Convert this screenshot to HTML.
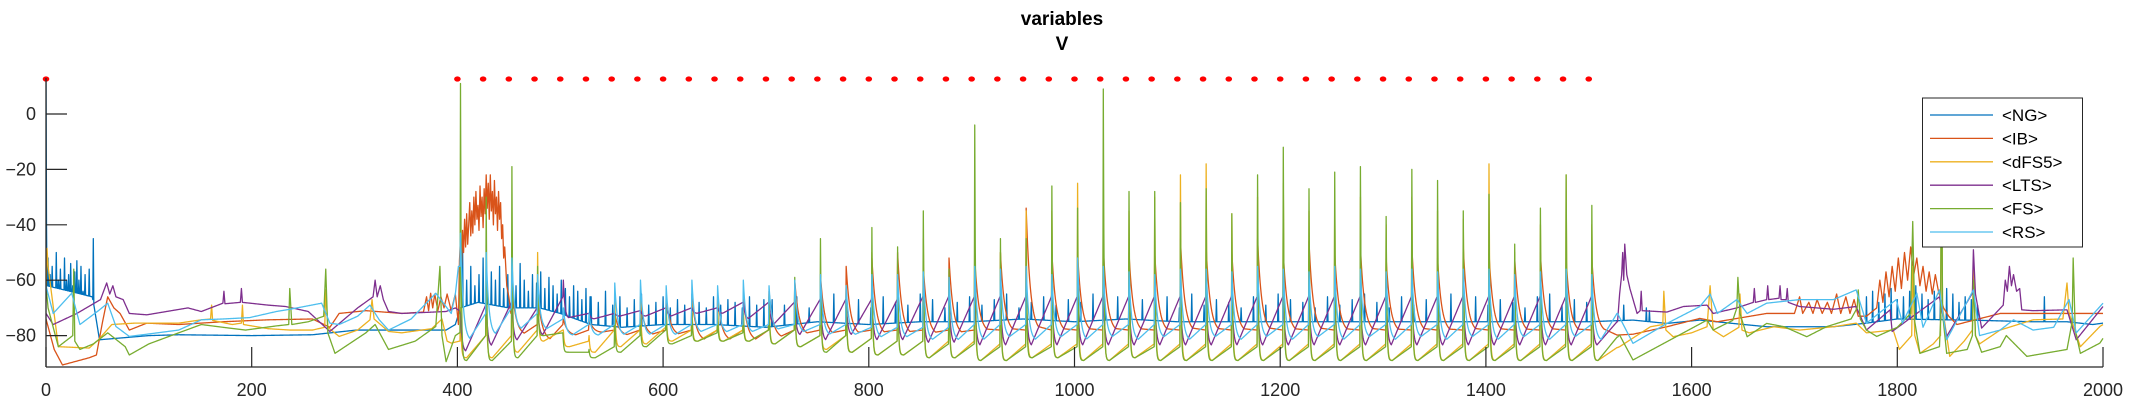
<!DOCTYPE html>
<html><head><meta charset="utf-8"><style>
html,body{margin:0;padding:0;background:#fff;}
svg{display:block;font-family:"Liberation Sans",sans-serif;}
</style></head><body>
<svg id="chart" width="2133" height="400" viewBox="0 0 2133 400" xmlns="http://www.w3.org/2000/svg">
<defs><clipPath id="plotclip"><rect x="46" y="70" width="2060" height="298"/></clipPath></defs>
<text x="1062" y="25" text-anchor="middle" font-size="19" font-weight="bold" fill="#000">variables</text>
<text x="1062" y="50" text-anchor="middle" font-size="19" font-weight="bold" fill="#000">V</text>
<g id="series" clip-path="url(#plotclip)"></g>
<g id="dots"></g>
<g id="axes"></g>
<g id="legend"></g>
</svg>
<script>
const xTicks=[0,200,400,600,800,1000,1200,1400,1600,1800,2000];
const yTicks=[0,-20,-40,-60,-80];
const eventTimes=[0,400,425,450,475,500,525,550,575,600,625,650,675,700,725,750,775,800,825,850,875,900,925,950,975,1000,1025,1050,1075,1100,1125,1150,1175,1200,1225,1250,1275,1300,1325,1350,1375,1400,1425,1450,1475,1500];
const seriesNames=["<NG>","<IB>","<dFS5>","<LTS>","<FS>","<RS>"];
const cycleTimes=[403,428,453,478,503,528,553,578,603,628,653,678,703,728,753,778,803,828,853,878,903,928,953,978,1003,1028,1053,1078,1103,1128,1153,1178,1203,1228,1253,1278,1303,1328,1353,1378,1403,1428,1453,1478,1503];

const ngKeys=[0,13,0.5,-40,1,-62,45,-66,47,-70,52,-81.5,100,-80,129,-79.7,200,-80,259,-79.7,302,-78,346,-78,389,-78,398,-76,403,-70,420,-68,450,-70,480,-70,500,-72,530,-76,560,-77,600,-76,650,-76,700,-77,750,-75,800,-76,850,-75,900,-75,950,-74,1000,-75,1050,-74,1100,-75,1200,-75,1300,-75,1400,-75,1500,-75,1543,-74.4,1576,-75.6,1608,-74.4,1640,-75.6,1673,-76.8,1738,-76.8,1770,-75.5,1800,-74,1880,-74.5,1932,-75,1965,-75,1990,-76,2000,-75.5];
const ngSpikeT=[2,4,6,8,10,12,14,16,18,20,22,24,26,28,30,32,34,36,38,40,42,46,405,409,413,417,421,425,429,433,437,441,445,449,453,457,461,465,469,473,477,481,485,489,493,497,501,505,509,513,517,521,525,529,530,537,544,551,558,565,572,579,586,593,600,607,614,621,628,635,642,649,656,663,670,677,684,691,698,706,718,730,742,754,766,778,790,802,814,826,838,850,862,874,886,898,910,922,934,946,958,970,982,994,1006,1018,1030,1042,1054,1066,1078,1090,1102,1114,1126,1138,1150,1162,1174,1186,1198,1210,1222,1234,1246,1258,1270,1282,1294,1306,1318,1330,1342,1354,1366,1378,1390,1402,1414,1426,1438,1450,1462,1474,1486,1498,1534,1556,1559,1770,1776,1782,1788,1794,1800,1806,1812,1818,1824,1830,1836,1842,1848,1854,1860,1866,1872,1878,1943];
const ngSpikeV=[-52,-58,-55,-63,-50,-60,-56,-65,-52,-60,-58,-54,-62,-57,-53,-60,-55,-64,-58,-66,-56,-45,-45,-60,-55,-62,-58,-52,-64,-57,-60,-55,-63,-58,-56,-62,-54,-60,-64,-58,-61,-57,-63,-59,-62,-65,-60,-63,-66,-62,-64,-67,-63,-66,-66,-68,-64,-69,-66,-70,-67,-65,-69,-68,-66,-70,-67,-69,-65,-68,-70,-66,-69,-67,-68,-70,-66,-69,-67,-67,-69,-66,-70,-68,-65,-69,-67,-70,-66,-68,-69,-65,-67,-70,-68,-66,-69,-67,-65,-70,-68,-66,-69,-67,-68,-65,-70,-66,-69,-67,-68,-66,-70,-65,-69,-67,-68,-70,-66,-69,-65,-67,-68,-70,-66,-69,-67,-65,-68,-70,-66,-69,-67,-68,-65,-70,-66,-69,-67,-68,-70,-66,-65,-69,-67,-68,-69,-70,-71,-66,-64,-68,-65,-63,-67,-66,-64,-62,-65,-67,-64,-66,-63,-65,-68,-66,-67,-69,-66];

const ibKeys=[0,-74,8,-85,16,-90.6,42,-88,49,-87,55,-75,60,-66,66,-70,72,-72,81,-78,98,-75.5,129,-76,172,-75,216,-74.3,259,-74,276,-77,285,-72,311,-71,346,-72,367,-71.5,370,-66,372,-71,374,-64.7,376,-70,378,-65,381,-71,384,-66,387,-70,390,-65,394,-71,398,-65,401,-76,402,-53,403,-45,404,-55,405,-42,406,-50,407,-38,408,-48,409,-36,410,-47,411,-40,412,-32,413,-44,414,-35,415,-43,416,-30,417,-40,418,-28,419,-38,420,-33,421,-42,422,-26,423,-37,424,-30,425,-41,426,-27,427,-36,428,-22,429,-34,430,-25,431,-38,432,-22,433,-35,434,-28,435,-40,436,-24,437,-36,438,-30,439,-42,440,-28,441,-38,442,-32,443,-45,444,-40,445,-52,446,-48,448,-62,450,-66,452,-72,1528,-79.8,1543,-79.5,1576,-76.8,1608,-73.8,1625,-75,1673,-72,1700,-72,1705,-66,1708,-72,1714,-68,1718,-72,1722,-67,1727,-72,1732,-68,1736,-72,1741,-65,1745,-72,1750,-66,1754,-72,1758,-67,1762,-73,1770,-73,1780,-70,1783,-60,1786,-68,1789,-57,1792,-66,1795,-55,1798,-64,1801,-52,1804,-63,1807,-50,1810,-60,1813,-48,1816,-58,1819,-52,1822,-62,1825,-55,1828,-64,1831,-57,1834,-65,1837,-58,1840,-64,1845,-70,1850,-73,1858,-76,1900,-72,1965,-72,2000,-72];
const ibPeak=[null,null,-62,-64,-74,-74,-72,-68,-66,-66,-66,-66,-64,-60,-58,-55,-52,-50,-55,-52,-52,-50,-34,-50,-50,-48,-50,-50,-45,-48,-50,-45,-50,-46,-50,-48,-52,-48,-52,-48,-50,-52,-50,-52,-52];
const ibTrough=[null,null,-80,-82,-80,-79,-80,-80,-80,-82,-82,-82,-81,-80,-80,-80,-80,-80,-80,-80,-79,-79,-79,-79,-79,-79,-79,-79,-79,-79,-79,-79,-79,-79,-79,-79,-79,-79,-79,-79,-79,-79,-79,-79,-79];
const ibPre=[null,null,-72,-76,-76,-78,-78,-78,-78,-78,-78,-78,-78,-78,-78,-78,-78,-78,-78,-78,-78,-78,-78,-78,-78,-78,-78,-78,-78,-78,-78,-78,-78,-78,-78,-78,-78,-78,-78,-78,-78,-78,-78,-78,-78];

const dfsKeys=[0,-65,1,-48.5,2,-55,12,-84,42,-84.5,51,-81.5,64,-76,86,-75.5,129,-75.5,151,-74.3,160,-74,161,-69,162,-74.5,181,-76,190,-75.5,191,-69,192,-76,216,-77.5,237,-78,259,-78,271,-77,272,-63.5,274,-77,285,-80.3,303,-78,315,-74.3,317,-67,319,-74,333,-78.5,346,-79,375,-77.5,385,-74,390,-82,394,-82.7,402,-82,1511,-87,1530,-84,1560,-76.8,1572,-76,1573,-64,1575,-78,1582,-80.4,1600,-79,1615,-76.8,1618,-62,1621,-78,1631,-80.4,1646,-77,1647,-65,1649,-78,1656,-79,1680,-76.8,1705,-78,1738,-76.8,1760,-75.5,1770,-79,1796,-78,1802,-85,1814,-80,1815,-55,1817,-80,1822,-86.4,1835,-83,1842,-80,1843,-10,1844,-70,1851,-87.5,1865,-82,1873,-78,1874,-55,1876,-80,1880,-83,1900,-78,1932,-74.3,1961,-74,1965,-61,1967,-72,1978,-84,1997,-76.7,2000,-76];
const dfsPeak=[-70,-60,-55,-50,-78,-80,-65,-66,-70,-68,-68,-70,-65,-62,-58,-62,-50,-55,-45,-60,-45,-50,-35,-35,-25,-30,-35,-30,-22,-18,-36,-30,-25,-35,-30,-30,-40,-30,-35,-38,-18,-50,-40,-22,-40];
const dfsTrough=[-88,-88,-86,-82,-84,-86,-84,-83,-82,-82,-82,-82,-83,-84,-85,-86,-87,-87,-88,-88,-89,-89,-88,-88,-89,-89,-88,-89,-89,-89,-89,-89,-89,-89,-89,-89,-89,-89,-89,-89,-89,-89,-89,-89,-89];
const dfsPre=[-82,-80,-80,-78,-78,-82,-78,-78,-77,-78,-78,-78,-78,-78,-80,-80,-81,-82,-82,-82,-82,-83,-83,-83,-83,-83,-83,-83,-83,-83,-83,-83,-83,-83,-83,-83,-83,-83,-83,-83,-83,-83,-83,-83,-83];

const ltsKeys=[0,-72,7,-76,30,-72,53,-67,59,-61,62,-65,65,-62,68,-66,75,-67,81,-72,98,-72.5,138,-70,151,-71.3,172,-68.3,173,-64,174,-68.5,189,-68,190,-63,191,-68,216,-69,233,-69.5,255,-71.3,276,-78.5,303,-70,318,-66,320,-60,322,-66,325,-62,328,-67,333,-71.3,346,-72,389,-71.3,398,-70,402,-71,1528,-75,1530,-65,1532,-58,1533,-50,1534,-60,1535,-47,1537,-58,1540,-63,1547,-72,1550,-71,1551,-64,1552,-71,1576,-71.5,1592,-69.5,1615,-69,1621,-72,1644,-70,1660,-68,1661,-63,1662,-68,1673,-67,1674,-62,1675,-67,1685,-66.5,1686,-62,1687,-67,1692,-67,1693,-63,1694,-68,1705,-69.5,1738,-70.5,1760,-69.5,1770,-78,1793,-70.7,1795,-78.5,1841,-66,1848,-80.3,1873,-64.7,1874,-49,1876,-65,1882,-77.3,1903,-69,1905,-60,1907,-64,1909,-55,1911,-62,1913,-58,1916,-64,1919,-63,1921,-70.7,1932,-71,1965,-70.7,1974,-81.5,2000,-69.5];
const ltsPeak=[-72,-68,-68,-70,-60,-72,-72,-71,-70,-70,-70,-68,-68,-68,-66,-67,-66,-66,-66,-65,-65,-65,-65,-65,-65,-65,-66,-65,-66,-66,-65,-66,-66,-65,-66,-66,-65,-66,-66,-65,-66,-66,-65,-66,-66];
const ltsTrough=[-86,-84,-82,-80,-74,-74,-73,-73,-73,-72,-72,-74,-76,-80,-82,-80,-82,-82,-83,-83,-84,-84,-84,-84,-84,-84,-84,-84,-84,-84,-84,-84,-84,-84,-84,-84,-84,-84,-84,-84,-84,-84,-84,-84,-84];
const ltsPre=[-71,-69,-68,-70,-66,-72,-72,-71,-70,-70,-70,-68,-68,-68,-67,-67,-67,-67,-66,-66,-66,-66,-66,-66,-66,-66,-66,-66,-66,-66,-66,-66,-66,-66,-66,-66,-66,-66,-66,-66,-66,-66,-66,-66,-66];

const fsKeys=[0,-62,2,-70,12,-84,26,-80,27,-56,28,-82,33,-85,46,-83,60,-79,77,-84,81,-87,100,-83,129,-79,151,-76,172,-77,194,-78,224,-76.5,236,-76,237,-63,239,-76,255,-75,270,-73,272,-56,274,-79,281,-86.4,311,-79,320,-76,333,-85,359,-82,379,-76.7,383,-55,385,-80,389,-89.4,398,-80,402,-79,1511,-87,1530,-79.8,1543,-88.8,1615,-74.4,1621,-78,1640,-74.5,1644,-70,1645,-59,1647,-72,1654,-80.4,1673,-75.6,1690,-76.8,1712,-80.4,1731,-76.8,1755,-74,1761,-70,1762,-63.5,1764,-74,1770,-78,1780,-80.3,1800,-77,1813,-72,1815,-38.8,1817,-75,1822,-86.4,1841,-84,1842,-75,1843,-8,1844,-72,1848,-86.4,1868,-85,1873,-80,1874,-60,1876,-80,1882,-86,1900,-84,1906,-80,1926,-87.5,1965,-85,1970,-75,1971,-52,1973,-78,1978,-86.4,1997,-82.7,2000,-81];
const fsPeak=[11,-30,-19,-55,-82,-85,-72,-74,-70,-72,-72,-72,-66,-59,-45,-62,-41,-48,-35,-56,-4,-45,-45,-26,-34,9,-28,-28,-32,-27,-36,-22,-12,-27,-21,-19,-37,-20,-24,-35,-29,-47,-34,-22,-33];
const fsTrough=[-89,-89,-88,-80,-86,-88,-86,-84,-83,-82,-82,-82,-83,-84,-86,-86,-87,-87,-88,-88,-89,-89,-88,-88,-89,-89,-88,-89,-89,-89,-89,-89,-89,-89,-89,-89,-89,-89,-89,-89,-89,-89,-89,-89,-89];
const fsPre=[-80,-80,-82,-80,-79,-86,-84,-80,-78,-80,-79,-79,-78,-78,-80,-80,-81,-82,-82,-83,-83,-84,-84,-84,-84,-84,-84,-84,-84,-84,-84,-84,-84,-84,-84,-84,-84,-84,-84,-84,-84,-84,-84,-84,-84];

const rsKeys=[0,-62,7,-72,25,-64.7,33,-76,51,-71,60,-68.3,68,-76.7,81,-80.3,98,-79.5,129,-78,151,-74.3,172,-74,198,-73.5,224,-71.3,237,-70.5,268,-68.3,276,-75.5,285,-76,303,-73,315,-69,324,-74.3,333,-78,355,-74,379,-64.7,394,-72,398,-65,401,-55,1528,-72,1543,-82.8,1576,-75.6,1608,-69.5,1618,-65,1625,-72,1644,-67,1654,-72,1673,-68.3,1705,-67,1738,-67,1760,-63.5,1770,-75.5,1799,-67,1805,-75.5,1819,-64.7,1825,-77,1841,-63.5,1848,-81.5,1874,-63.5,1880,-80,1900,-78,1913,-74.3,1932,-78,1952,-77,1967,-67,1974,-79,2000,-68.3];
const rsPeak=[-43,-50,-52,-58,-70,-72,-61,-60,-62,-60,-62,-60,-62,-60,-58,-62,-58,-58,-57,-59,-55,-56,-55,-58,-52,-55,-57,-58,-56,-56,-57,-55,-56,-57,-55,-56,-57,-56,-57,-56,-56,-58,-57,-56,-58];
const rsTrough=[-82,-80,-78,-78,-80,-80,-80,-80,-80,-79,-79,-79,-78,-79,-80,-80,-81,-81,-82,-82,-82,-81,-82,-81,-82,-81,-82,-81,-82,-81,-82,-81,-82,-81,-82,-81,-82,-81,-82,-81,-82,-81,-82,-81,-82];
const rsPre=[-65,-72,-70,-72,-74,-76,-76,-76,-76,-76,-76,-76,-76,-76,-76,-76,-77,-77,-77,-77,-76,-76,-76,-76,-76,-76,-76,-76,-76,-76,-76,-76,-76,-76,-76,-76,-76,-76,-76,-76,-76,-76,-76,-76,-76];

const X0=46, XS=1.0285, Y0=114, YS=2.77;
function xs(t){return X0+t*XS;}
function ys(v){return Y0-v*YS;}
const colors=["#0072BD","#D95319","#EDB120","#7E2F8E","#77AC30","#4DBEEE"];
const shapes=[null,{tau:4,dm:12},{tau:0.8,dm:6},{tau:1.5,dm:5},{tau:0.7,dm:6},{tau:2.5,dm:9}];
const seriesData=[
 {keys:ngKeys,peak:null,trough:null,pre:null,spT:ngSpikeT,spV:ngSpikeV},
 {keys:ibKeys,peak:ibPeak,trough:ibTrough,pre:ibPre},
 {keys:dfsKeys,peak:dfsPeak,trough:dfsTrough,pre:dfsPre},
 {keys:ltsKeys,peak:ltsPeak,trough:ltsTrough,pre:ltsPre},
 {keys:fsKeys,peak:fsPeak,trough:fsTrough,pre:fsPre},
 {keys:rsKeys,peak:rsPeak,trough:rsTrough,pre:rsPre}
];
function keyVal(keys,t){
  const n=keys.length/2;
  if(t<=keys[0])return keys[1];
  for(let i=1;i<n;i++){
    const t1=keys[2*i];
    if(t<=t1){const t0=keys[2*i-2],v0=keys[2*i-1],v1=keys[2*i+1];
      return t1===t0?v1:v0+(v1-v0)*(t-t0)/(t1-t0);}
  }
  return keys[2*n-1];
}
function buildValues(s,shape){
  const vals=[];
  const nc=cycleTimes.length;
  for(let i=0;i<=4000;i++){
    const t=i*0.5;
    let v=null;
    if(s.peak){
      for(let k=0;k<nc;k++){
        const tk=cycleTimes[k];
        const tn=k+1<nc?cycleTimes[k+1]:tk+25;
        if(t>=tk&&t<tn&&s.peak[k]!==null){
          const P=s.peak[k],T=s.trough[k],dt=t-tk,D=tn-tk;
          const target=(k+1<nc&&s.peak[k+1]!==null)?s.pre[k+1]:keyVal(s.keys,tn);
          if(dt<shape.dm){v=T+(P-T)*Math.exp(-dt/shape.tau);}
          else{const vm=T+(P-T)*Math.exp(-shape.dm/shape.tau);
            const f=Math.min(1,(dt-shape.dm)/Math.max(0.5,D-0.5-shape.dm));
            v=vm+(target-vm)*f;}
          break;
        }
      }
    }
    if(v===null)v=keyVal(s.keys,t);
    vals.push(v);
  }
  if(s.spT){
    const m=Math.min(s.spT.length,s.spV.length);
    for(let j=0;j<m;j++){const idx=Math.round(s.spT[j]*2);
      if(idx>=0&&idx<vals.length)vals[idx]=Math.max(vals[idx],s.spV[j]);}
  }
  return vals;
}
const NS="http://www.w3.org/2000/svg";
const gS=document.getElementById("series");
seriesData.forEach((s,si)=>{
  const vals=buildValues(s,shapes[si]);
  let d="";
  vals.forEach((v,i)=>{d+=(i?"L":"M")+xs(i*0.5).toFixed(2)+","+ys(v).toFixed(2);});
  const p=document.createElementNS(NS,"path");
  p.setAttribute("d",d);p.setAttribute("fill","none");p.setAttribute("stroke",colors[si]);
  p.setAttribute("stroke-width","1.3");p.setAttribute("stroke-linejoin","round");
  
  
  gS.appendChild(p);
});
const gD=document.getElementById("dots");
eventTimes.forEach(t=>{
  const c=document.createElementNS(NS,"ellipse");
  c.setAttribute("cx",xs(t));c.setAttribute("cy",79);c.setAttribute("rx",3.3);c.setAttribute("ry",2.6);c.setAttribute("fill","#FF0000");
  
  
  gD.appendChild(c);
});
const gA=document.getElementById("axes");
function add(parent,tag,attrs,text){const e=document.createElementNS(NS,tag);for(const k in attrs)e.setAttribute(k,attrs[k]);if(text!==undefined)e.textContent=text;parent.appendChild(e);return e;}
const xl=add(gA,"line",{x1:46,y1:367,x2:2103,y2:367,stroke:"#262626","stroke-width":1.3});


const yl=add(gA,"line",{x1:46,y1:78,x2:46,y2:367,stroke:"#262626","stroke-width":1.3});


xTicks.forEach(t=>{
  const tk=add(gA,"line",{x1:xs(t),y1:367,x2:xs(t),y2:347,stroke:"#262626","stroke-width":1.2});
  
  
  const lb=add(gA,"text",{x:xs(t),y:396,"text-anchor":"middle","font-size":18,fill:"#262626"},String(t));
  
  
});
yTicks.forEach(v=>{
  const tk=add(gA,"line",{x1:46,y1:ys(v),x2:67,y2:ys(v),stroke:"#262626","stroke-width":1.2});
  
  
  const lb=add(gA,"text",{x:36,y:ys(v)+6,"text-anchor":"end","font-size":18,fill:"#262626"},String(v).replace("-","\u2212"));
  
  
});
const gL=document.getElementById("legend");
const box=add(gL,"rect",{x:1922.5,y:98,width:160,height:149,fill:"#fff",stroke:"#262626","stroke-width":1});


seriesNames.forEach((n,i)=>{
  const y=115+i*23.4;
  const ln=add(gL,"line",{x1:1930,y1:y,x2:1993,y2:y,stroke:colors[i],"stroke-width":1.3});
  
  
  const tx=add(gL,"text",{x:2002,y:y+6,"font-size":17,fill:"#000"},n);
  
  
});
</script>
</body></html>
